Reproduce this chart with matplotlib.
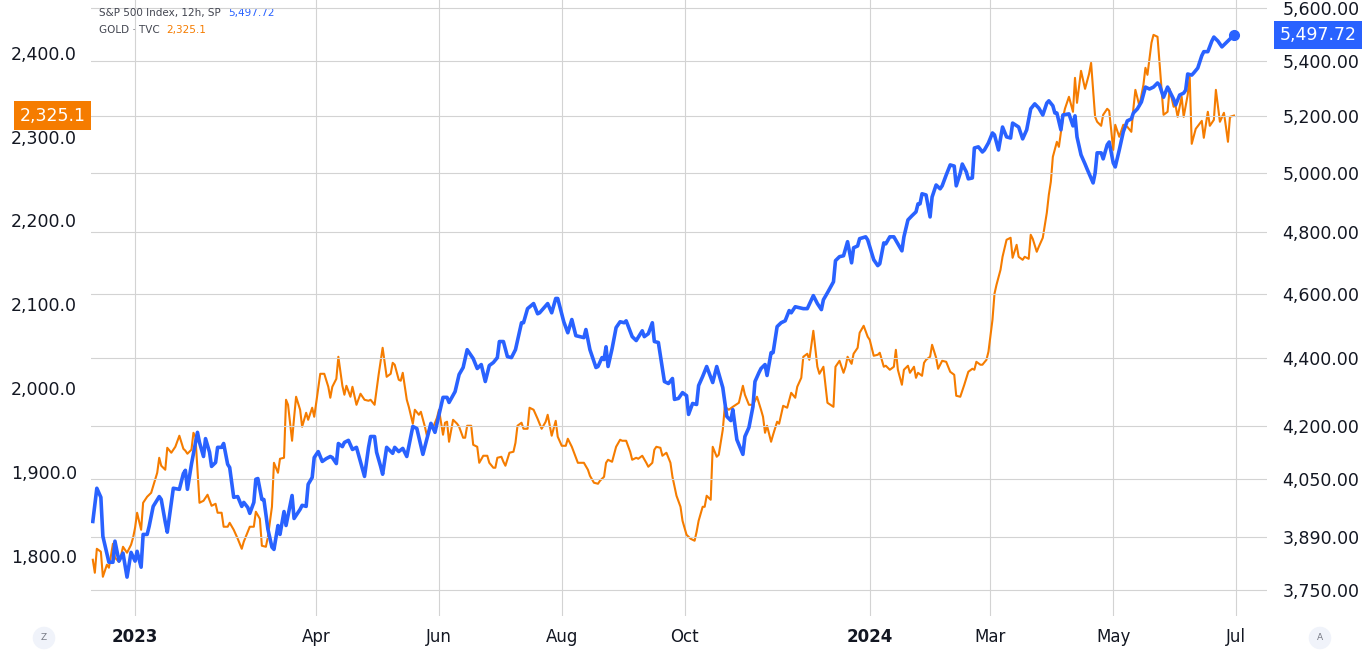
import numpy as np
import pandas as pd
import matplotlib
matplotlib.use("Agg")
import matplotlib.pyplot as plt
from matplotlib.ticker import FuncFormatter, FixedLocator, NullLocator
from matplotlib.transforms import blended_transform_factory

# Days counted from 2023-01-01, closes
BASE = pd.Timestamp("2023-01-01")

sp_days = [
    -21, -19, -17, -16, -13, -11, -10, -8, -6, -4,
    -2, 0, 1, 3, 4, 6, 7, 9, 12, 13,
    15, 16, 18, 19, 22, 24, 25, 26, 28, 31,
    32, 34, 35, 37, 38, 40, 41, 43, 44, 46,
    47, 49, 51, 53, 54, 56, 57, 59, 60, 61,
    63, 64, 66, 68, 69, 71, 72, 74, 75, 78,
    79, 82, 83, 85, 86, 88, 89, 91, 93, 95,
    97, 98, 100, 101, 103, 104, 106, 108, 110, 113,
    114, 116, 117, 119, 120, 122, 123, 125, 128, 129,
    131, 133, 135, 138, 140, 143, 147, 149, 153, 155,
    156, 159, 161, 163, 165, 168, 170, 172, 174, 176,
    178, 180, 181, 183, 185, 187, 189, 192, 193, 195,
    198, 200, 201, 205, 207, 209, 210, 213, 215, 217,
    219, 221, 223, 224, 226, 229, 230, 232, 233, 234,
    235, 237, 239, 241, 243, 244, 247, 249, 252, 253,
    255, 257, 258, 260, 263, 265, 267, 268, 270, 272,
    274, 275, 277, 279, 280, 282, 284, 287, 289, 292,
    294, 296, 297, 299, 302, 303, 305, 307, 308, 310,
    311, 313, 314, 316, 317, 319, 321, 323, 325, 326,
    328, 330, 332, 334, 337, 339, 341, 342, 344, 347,
    348, 350, 352, 354, 356, 357, 359, 360, 363, 364,
    367, 369, 370, 372, 373, 375, 377, 379, 381, 382,
    384, 386, 388, 389, 390, 391, 393, 395, 396, 398,
    400, 401, 403, 405, 407, 408, 410, 411, 413, 414,
    416, 417, 419, 421, 422, 424, 426, 427, 429, 431,
    433, 435, 436, 439, 441, 443, 445, 447, 449, 451,
    453, 454, 456, 457, 458, 460, 461, 464, 466, 467,
    468, 470, 472, 473, 476, 477, 478, 480, 481, 483,
    484, 486, 487, 489, 491, 493, 495, 496, 498, 500,
    502, 504, 506, 508, 509, 511, 513, 516, 517, 519,
    521, 522, 523, 525, 526, 528, 530, 531, 533, 535,
    536, 538, 540, 542, 544, 546,
]
sp_close = [
    3932, 4023, 3998, 3892, 3823, 3823, 3879, 3826, 3847, 3784,
    3849, 3826, 3852, 3810, 3897, 3897, 3919, 3973, 4000, 3992,
    3930, 3903, 3984, 4023, 4020, 4064, 4073, 4020, 4090, 4181,
    4152, 4112, 4163, 4124, 4084, 4095, 4138, 4138, 4149, 4090,
    4081, 3998, 4000, 3973, 3984, 3970, 3954, 3984, 4048, 4050,
    3992, 3992, 3911, 3863, 3857, 3921, 3897, 3959, 3921, 4003,
    3940, 3965, 3976, 3973, 4034, 4053, 4109, 4126, 4098, 4106,
    4112, 4109, 4092, 4149, 4140, 4152, 4158, 4132, 4138, 4076,
    4056, 4138, 4169, 4169, 4124, 4084, 4062, 4138, 4121, 4138,
    4126, 4135, 4112, 4198, 4192, 4118, 4207, 4181, 4283, 4283,
    4268, 4300, 4351, 4372, 4426, 4399, 4369, 4381, 4330, 4378,
    4387, 4402, 4451, 4451, 4405, 4402, 4426, 4509, 4509, 4553,
    4569, 4537, 4540, 4569, 4540, 4585, 4585, 4512, 4478, 4519,
    4469, 4466, 4463, 4488, 4426, 4372, 4375, 4402, 4396, 4435,
    4375, 4429, 4494, 4512, 4509, 4515, 4466, 4454, 4484, 4466,
    4475, 4509, 4451, 4448, 4330, 4324, 4339, 4277, 4280, 4297,
    4288, 4233, 4265, 4262, 4318, 4345, 4375, 4327, 4375, 4312,
    4227, 4215, 4247, 4160, 4118, 4169, 4195, 4256, 4330, 4357,
    4369, 4381, 4348, 4417, 4417, 4497, 4509, 4515, 4547, 4540,
    4559, 4556, 4553, 4553, 4594, 4569, 4550, 4581, 4603, 4638,
    4706, 4719, 4722, 4768, 4699, 4748, 4754, 4778, 4784, 4774,
    4709, 4690, 4696, 4764, 4761, 4784, 4784, 4761, 4738, 4784,
    4840, 4854, 4867, 4894, 4894, 4928, 4924, 4850, 4917, 4958,
    4945, 4955, 4992, 5027, 5023, 4955, 4999, 5030, 5003, 4979,
    4982, 5086, 5090, 5072, 5079, 5104, 5139, 5132, 5079, 5160,
    5125, 5121, 5174, 5160, 5118, 5150, 5225, 5243, 5228, 5203,
    5246, 5254, 5236, 5210, 5210, 5150, 5203, 5207, 5164, 5200,
    5125, 5062, 5030, 5013, 4965, 4999, 5069, 5069, 5048, 5097,
    5107, 5034, 5020, 5079, 5143, 5182, 5189, 5210, 5225, 5250,
    5304, 5297, 5304, 5319, 5311, 5267, 5304, 5260, 5239, 5275,
    5282, 5293, 5352, 5348, 5356, 5374, 5420, 5435, 5435, 5475,
    5490, 5475, 5453, 5468, 5483, 5497.72,
]

gold_days = [
    -21, -20, -19, -17, -16, -14, -13, -11, -10, -8,
    -7, -6, -4, -2, -1, 0, 1, 3, 4, 6,
    8, 11, 12, 13, 15, 16, 18, 20, 22, 24,
    25, 26, 28, 29, 30, 32, 34, 36, 38, 40,
    41, 43, 44, 46, 47, 49, 51, 53, 54, 56,
    57, 59, 60, 62, 63, 65, 66, 68, 69, 71,
    72, 74, 75, 76, 78, 79, 80, 82, 83, 85,
    86, 88, 89, 90, 92, 94, 96, 97, 98, 100,
    101, 103, 104, 105, 107, 108, 110, 112, 114, 116,
    117, 119, 121, 123, 125, 127, 128, 129, 131, 132,
    133, 135, 136, 138, 139, 141, 142, 144, 145, 147,
    148, 150, 151, 153, 154, 155, 156, 158, 160, 161,
    163, 164, 165, 167, 168, 170, 171, 173, 175, 176,
    178, 179, 180, 182, 183, 184, 186, 188, 189, 190,
    192, 193, 195, 196, 198, 200, 202, 204, 205, 207,
    209, 210, 212, 214, 215, 217, 220, 221, 223, 225,
    226, 228, 230, 231, 233, 234, 235, 237, 239, 241,
    242, 244, 246, 247, 249, 250, 252, 254, 255, 257,
    258, 259, 261, 262, 264, 266, 267, 269, 271, 272,
    274, 276, 278, 279, 280, 282, 283, 284, 286, 287,
    289, 290, 292, 293, 295, 297, 300, 302, 303, 305,
    307, 309, 311, 312, 313, 314, 316, 317, 319, 320,
    322, 324, 326, 328, 329, 331, 332, 334, 335, 337,
    339, 340, 342, 344, 347, 348, 350, 352, 353, 354,
    356, 357, 359, 360, 362, 364, 365, 367, 369, 370,
    372, 373, 375, 377, 378, 379, 381, 382, 384, 385,
    387, 388, 389, 391, 392, 393, 395, 396, 398, 399,
    401, 403, 405, 407, 408, 410, 412, 414, 416, 417,
    418, 420, 421, 423, 424, 426, 427, 428, 430, 431,
    433, 435, 436, 438, 439, 441, 442, 444, 445, 446,
    448, 449, 451, 453, 454, 455, 456, 458, 459, 461,
    462, 464, 466, 467, 468, 470, 472, 474, 475, 477,
    478, 480, 481, 483, 484, 486, 487, 489, 491, 493,
    495, 496, 497, 499, 501, 502, 503, 505, 506, 508,
    509, 511, 513, 514, 516, 517, 518, 520, 521, 523,
    524, 525, 527, 530, 531, 533, 534, 536, 537, 539,
    541, 542, 543, 544, 546,
]
gold_close = [
    1795.1, 1779.6, 1808.2, 1804.7, 1774.8, 1789.2, 1785.6, 1814.2, 1797.5, 1792.7,
    1799.9, 1810.6, 1803.5, 1813.0, 1821.4, 1833.3, 1851.2, 1830.9, 1863.1, 1870.3,
    1875.0, 1898.9, 1916.8, 1907.3, 1902.5, 1928.7, 1922.8, 1929.9, 1943.1, 1927.5,
    1925.2, 1921.6, 1926.4, 1946.6, 1941.9, 1863.1, 1865.5, 1872.7, 1859.5, 1861.9,
    1851.2, 1851.2, 1834.5, 1834.5, 1839.2, 1830.9, 1820.2, 1808.2, 1816.6, 1828.5,
    1834.5, 1834.5, 1852.4, 1844.0, 1811.8, 1810.6, 1822.6, 1858.3, 1910.8, 1898.9,
    1915.6, 1916.8, 1986.0, 1980.0, 1937.1, 1964.5, 1989.6, 1974.1, 1953.8, 1970.5,
    1962.1, 1976.5, 1965.7, 1982.4, 2017.0, 2017.0, 2001.5, 1988.4, 2001.5, 2011.0,
    2037.3, 2002.7, 1992.0, 2002.7, 1989.6, 2001.5, 1980.0, 1993.2, 1986.0, 1984.8,
    1986.0, 1980.0, 2015.8, 2048.0, 2013.4, 2017.0, 2030.1, 2027.8, 2009.9, 2008.7,
    2018.2, 1986.0, 1977.6, 1957.4, 1974.1, 1968.1, 1971.7, 1953.8, 1943.1, 1957.4,
    1952.6, 1964.5, 1974.1, 1944.3, 1958.6, 1959.8, 1935.9, 1962.1, 1957.4, 1953.8,
    1940.7, 1940.7, 1955.0, 1955.0, 1932.3, 1929.9, 1910.8, 1919.2, 1919.2, 1910.8,
    1904.9, 1904.9, 1916.8, 1918.0, 1912.0, 1907.3, 1922.8, 1924.0, 1934.7, 1955.0,
    1958.6, 1951.4, 1951.4, 1976.5, 1974.1, 1963.3, 1951.4, 1959.8, 1968.1, 1943.1,
    1960.9, 1941.9, 1931.1, 1931.1, 1939.5, 1929.9, 1910.8, 1910.8, 1910.8, 1902.5,
    1895.3, 1887.0, 1885.8, 1889.4, 1894.1, 1910.8, 1914.4, 1912.0, 1929.9, 1938.3,
    1937.1, 1937.1, 1923.9, 1914.4, 1916.8, 1915.6, 1919.2, 1910.8, 1906.1, 1910.8,
    1926.4, 1929.9, 1928.7, 1919.2, 1922.8, 1910.8, 1894.1, 1871.5, 1858.3, 1841.6,
    1824.9, 1820.2, 1817.8, 1828.5, 1841.6, 1858.3, 1858.3, 1871.5, 1866.7, 1929.9,
    1918.0, 1920.4, 1950.2, 1977.6, 1974.1, 1977.6, 1982.4, 2002.7, 1992.0, 1980.0,
    1980.0, 1989.6, 1974.1, 1965.7, 1946.6, 1955.0, 1935.9, 1944.3, 1959.8, 1957.4,
    1978.8, 1976.5, 1994.3, 1988.4, 2001.5, 2012.2, 2037.3, 2040.9, 2033.7, 2068.3,
    2025.4, 2017.0, 2025.4, 1982.4, 1977.6, 2025.4, 2032.5, 2018.2, 2025.4, 2037.3,
    2028.9, 2040.9, 2048.0, 2065.9, 2074.3, 2061.2, 2057.6, 2038.5, 2039.7, 2042.1,
    2025.4, 2026.6, 2021.8, 2025.4, 2045.6, 2021.8, 2003.9, 2021.8, 2026.6, 2018.2,
    2025.4, 2012.2, 2018.2, 2014.6, 2030.1, 2033.7, 2037.3, 2051.6, 2036.1, 2023.0,
    2032.5, 2031.3, 2019.4, 2015.8, 1990.8, 1989.6, 2003.9, 2019.4, 2023.0, 2021.8,
    2031.3, 2027.8, 2027.8, 2033.7, 2043.3, 2081.4, 2112.5, 2123.2, 2141.1, 2156.6,
    2176.9, 2179.3, 2155.4, 2170.9, 2156.6, 2153.0, 2156.6, 2154.2, 2182.9, 2178.1,
    2162.6, 2168.5, 2179.3, 2209.1, 2230.6, 2246.1, 2275.9, 2293.8, 2287.8, 2322.4,
    2333.2, 2347.5, 2329.6, 2370.1, 2340.3, 2378.5, 2357.0, 2374.9, 2388.0, 2323.6,
    2317.7, 2312.9, 2326.0, 2333.2, 2330.8, 2284.2, 2314.1, 2299.8, 2314.1, 2311.7,
    2305.7, 2333.2, 2355.8, 2336.7, 2361.8, 2382.1, 2373.7, 2411.9, 2421.4, 2419.1,
    2388.0, 2326.0, 2329.6, 2357.0, 2335.6, 2336.7, 2323.6, 2347.5, 2323.6, 2349.9,
    2371.3, 2291.4, 2309.3, 2318.8, 2298.6, 2329.6, 2312.9, 2320.0, 2355.8, 2317.7,
    2328.4, 2311.7, 2293.8, 2323.6, 2325.1,
]

# axis ticks
x_ticks = ["2023-01-01", "2023-04-01", "2023-06-01", "2023-08-01", "2023-10-01",
           "2024-01-01", "2024-03-01", "2024-05-01", "2024-07-01"]
x_labels = ["2023", "Apr", "Jun", "Aug", "Oct", "2024", "Mar", "May", "Jul"]
gold_ticks = [1800, 1900, 2000, 2100, 2200, 2300, 2400]
sp_ticks = [3750, 3890, 4050, 4200, 4400, 4600, 4800, 5000, 5200, 5400, 5600]

assert len(sp_days) == len(sp_close)
assert len(gold_days) == len(gold_close)

BLUE = "#2962FF"
ORANGE = "#F57C00"
TXT = "#131722"
GRID = "#d3d3d3"

sp_dates = BASE + pd.to_timedelta(sp_days, unit="D")
gold_dates = BASE + pd.to_timedelta(gold_days, unit="D")

W, H = 1368, 658
fig = plt.figure(figsize=(W / 100, H / 100), dpi=100)
fig.patch.set_facecolor("white")

ax = fig.add_axes([91 / W, 42 / H, 1176 / W, 616 / H])
ax2 = ax.twinx()

# gold on the left scale
ax.plot(gold_dates, gold_close, color=ORANGE, lw=1.5, solid_joinstyle="round")
ax.set_ylim(1728, 2463)
ax.yaxis.set_major_locator(FixedLocator(gold_ticks))
ax.yaxis.set_major_formatter(FuncFormatter(lambda v, _: f"{v:,.1f}"))

# S&P 500 on the right, log scale like the TradingView chart
ax2.plot(sp_dates, sp_close, color=BLUE, lw=2.6, solid_joinstyle="round", zorder=3)
ax2.plot(sp_dates[-1], sp_close[-1], "o", color=BLUE, ms=7, zorder=4)
ax2.set_yscale("log")
ax2.set_ylim(3684, 5632)
ax2.yaxis.set_major_locator(FixedLocator(sp_ticks))
ax2.yaxis.set_minor_locator(NullLocator())
ax2.yaxis.set_major_formatter(FuncFormatter(lambda v, _: f"{v:,.2f}"))
ax2.grid(axis="y", color=GRID, lw=0.8, zorder=0)

ax.set_xlim(BASE + pd.Timedelta(days=-21.9), BASE + pd.Timedelta(days=562.4))
ax.set_xticks(pd.to_datetime(x_ticks))
ax.set_xticklabels(x_labels)
for lab in ax.get_xticklabels():
    if lab.get_text().isdigit():
        lab.set_fontweight("bold")
ax.grid(axis="x", color=GRID, lw=0.8)

for a in (ax, ax2):
    for s in a.spines.values():
        s.set_visible(False)
ax.tick_params(axis="y", length=0, pad=10, labelsize=12.5, labelcolor=TXT)
ax.tick_params(axis="x", length=0, pad=9, labelsize=12, labelcolor=TXT)
ax2.tick_params(axis="y", length=0, pad=11, labelsize=12.5, labelcolor=TXT)

# last-price badges on both scales
gold_tr = blended_transform_factory(ax.transAxes, ax.transData)
ax.annotate(f"{gold_close[-1]:,.1f}", xy=(0, gold_close[-1]), xycoords=gold_tr,
            xytext=(-4, 0), textcoords="offset points", ha="right", va="center",
            color="white", fontsize=12.5, annotation_clip=False,
            bbox=dict(boxstyle="square,pad=0.3", fc=ORANGE, ec="none"))
sp_tr = blended_transform_factory(ax2.transAxes, ax2.transData)
ax2.annotate(f"{sp_close[-1]:,.2f}", xy=(1, sp_close[-1]), xycoords=sp_tr,
             xytext=(9, 0), textcoords="offset points", ha="left", va="center",
             color="white", fontsize=12.5, annotation_clip=False,
             bbox=dict(boxstyle="square,pad=0.3", fc=BLUE, ec="none"))

# legend lines at the top left
t1 = fig.text(99 / W, 1 - 13 / H, "S&P 500 Index, 12h, SP", fontsize=7.5,
              color="#434651", va="center")
ax.annotate(f"{sp_close[-1]:,.2f}", xy=(1, 0.5), xycoords=t1, xytext=(5, 0),
            textcoords="offset points", va="center", fontsize=7.5, color=BLUE)
t2 = fig.text(99 / W, 1 - 30 / H, "GOLD \u00b7 TVC", fontsize=7.5,
              color="#434651", va="center")
ax.annotate(f"{gold_close[-1]:,.1f}", xy=(1, 0.5), xycoords=t2, xytext=(5, 0),
            textcoords="offset points", va="center", fontsize=7.5, color=ORANGE)

# small corner buttons
for xp, letter in ((44, "Z"), (1320, "A")):
    fig.text(xp / W, 1 - 638 / H, letter, fontsize=6.5, color="#787b86",
             ha="center", va="center",
             bbox=dict(boxstyle="circle,pad=0.75", fc="#f0f3fa", ec="none"))

fig.savefig("out.png", dpi=100, facecolor="white")
